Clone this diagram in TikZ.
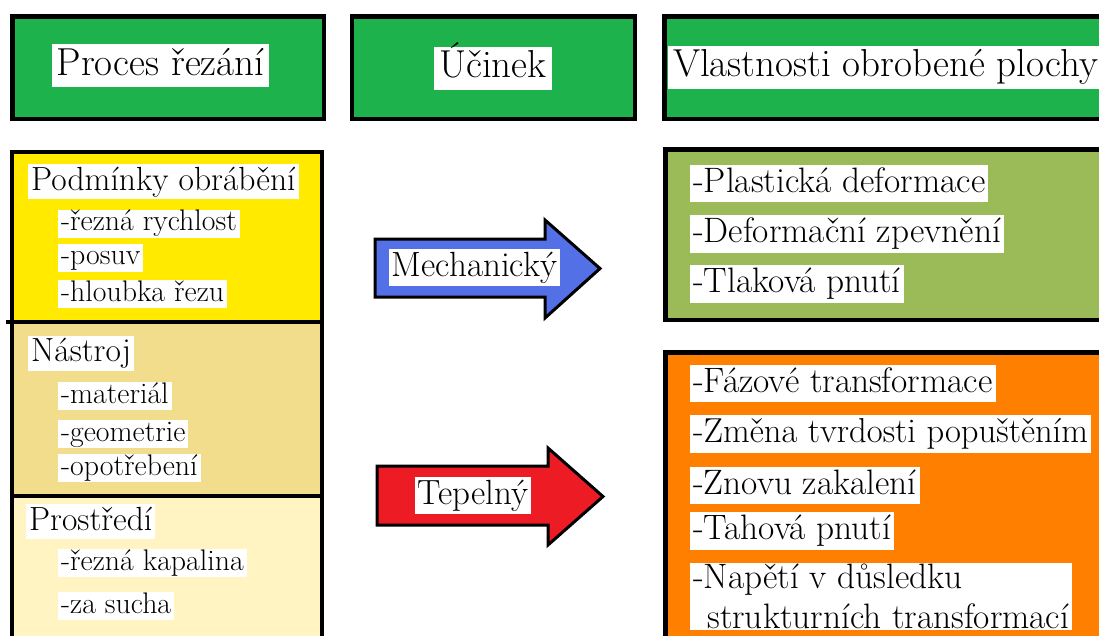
\documentclass[tikz,border=0pt]{standalone}
\usepackage{fontspec}
\definecolor{hgreen}{RGB}{30,178,76}
\definecolor{yel}{RGB}{255,234,0}
\definecolor{tanc}{RGB}{241,221,140}
\definecolor{lyel}{RGB}{255,244,194}
\definecolor{olive}{RGB}{155,187,89}
\definecolor{orng}{RGB}{255,128,0}
\definecolor{ablue}{RGB}{84,112,230}
\definecolor{ared}{RGB}{237,28,36}
\tikzset{
  hdrbox/.style={draw=black, line width=4.5pt, fill=hgreen},
  colbox/.style={draw=black, line width=4.5pt},
  divline/.style={draw=black, line width=4pt},
  blockarrow/.style={draw=black, line width=3pt, line join=miter},
  lbl/.style={fill=white, inner xsep=3pt, inner ysep=1pt, anchor=west},
  hdrlbl/.style={lbl, inner xsep=5pt, inner ysep=3pt, anchor=center,
    font=\fontsize{39}{46}\selectfont, text height=28pt, text depth=9pt},
  mainlbl/.style={lbl, font=\fontsize{33.5}{40}\selectfont, text height=25pt, text depth=8pt},
  sublbl/.style={lbl, inner ysep=0pt, font=\fontsize{29.8}{34}\selectfont, text height=21pt, text depth=7pt},
  rlbl/.style={lbl, inner ysep=1.5pt, font=\fontsize{35.3}{40}\selectfont, text height=26pt, text depth=8.5pt},
  albl/.style={lbl, inner ysep=2pt, anchor=center, font=\fontsize{35}{40}\selectfont, text height=25pt, text depth=8pt},
}
\begin{document}
\begin{tikzpicture}[x=1pt,y=-1pt]
\useasboundingbox (0,0) rectangle (1099,635);
\clip (0,0) rectangle (1099,635);
\fill[white] (0,0) rectangle (1099,635);

% header boxes
\draw[hdrbox] (12.5,16.5) rectangle (324,119);
\draw[hdrbox] (352,16.5) rectangle (635,119);
\draw[hdrbox] (664.5,16.5) rectangle (1120,119);
\node[hdrlbl] (h1) at (160.5,65.5) {Proces řezání};
\node[hdrlbl] (h2) at (493,68) {Účinek};
\node[hdrlbl, anchor=west] (h3) at (668,67) {Vlastnosti obrobené plochy};

% left column
\fill[yel] (12,152) rectangle (322,322);
\fill[tanc] (12,322) rectangle (322,496);
\fill[lyel] (12,496) rectangle (322,700);
\draw[colbox] (12,152) rectangle (322,700);
\draw[divline] (6,322) -- (322,322);
\draw[divline] (12,496) -- (322,496);

\node[mainlbl] (p1) at (28,181.5) {Podmínky obrábění};
\node[sublbl] (p1a) at (58,223.5) {-řezná rychlost};
\node[sublbl] (p1b) at (58,257.5) {-posuv};
\node[sublbl] (p1c) at (58,294) {-hloubka řezu};
\node[mainlbl] (p2) at (28,353) {Nástroj};
\node[sublbl] (p2a) at (58,396) {-materiál};
\node[sublbl] (p2b) at (58,434) {-geometrie};
\node[sublbl] (p2c) at (58,468) {-opotřebení};
\node[mainlbl] (p3) at (26,521.5) {Prostředí};
\node[sublbl] (p3a) at (58,563) {-řezná kapalina};
\node[sublbl] (p3b) at (58,606) {-za sucha};

% right column
\draw[colbox, fill=olive] (665.5,149.5) rectangle (1120,320);
\draw[colbox, fill=orng] (665.5,352.5) rectangle (1120,700);
\node[rlbl] (r1) at (690,183.5) {-Plastická deformace};
\node[rlbl] (r2) at (690,234) {-Deformační zpevnění};
\node[rlbl] (r3) at (690,284) {-Tlaková pnutí};
\node[rlbl] (r4) at (690,383.5) {-Fázové transformace};
\node[rlbl, font=\fontsize{34.6}{40}\selectfont] (r5) at (690,434) {-Změna tvrdosti popuštěním};
\node[rlbl] (r6) at (690,485.5) {-Znovu zakalení};
\node[rlbl] (r7) at (690,531) {-Tahová pnutí};
\node[lbl, inner ysep=1.5pt, align=left, font=\fontsize{35.3}{40}\selectfont] (r8) at (690,596.5)
  {-Napětí v důsledku\\\hspace*{0.4em}strukturních transformací};

% block arrows
\draw[blockarrow, fill=ablue] (375,239) -- (545,239) -- (545,220) -- (600,268.5)
  -- (545,318) -- (545,297) -- (375,297) -- cycle;
\draw[blockarrow, fill=ared] (377,466) -- (548,466) -- (548,448) -- (603,496.5)
  -- (548,545) -- (548,525) -- (377,525) -- cycle;
\node[albl] (a1) at (474.5,267.5) {Mechanický};
\node[albl] (a2) at (473,495.5) {Tepelný};
\end{tikzpicture}
\end{document}
